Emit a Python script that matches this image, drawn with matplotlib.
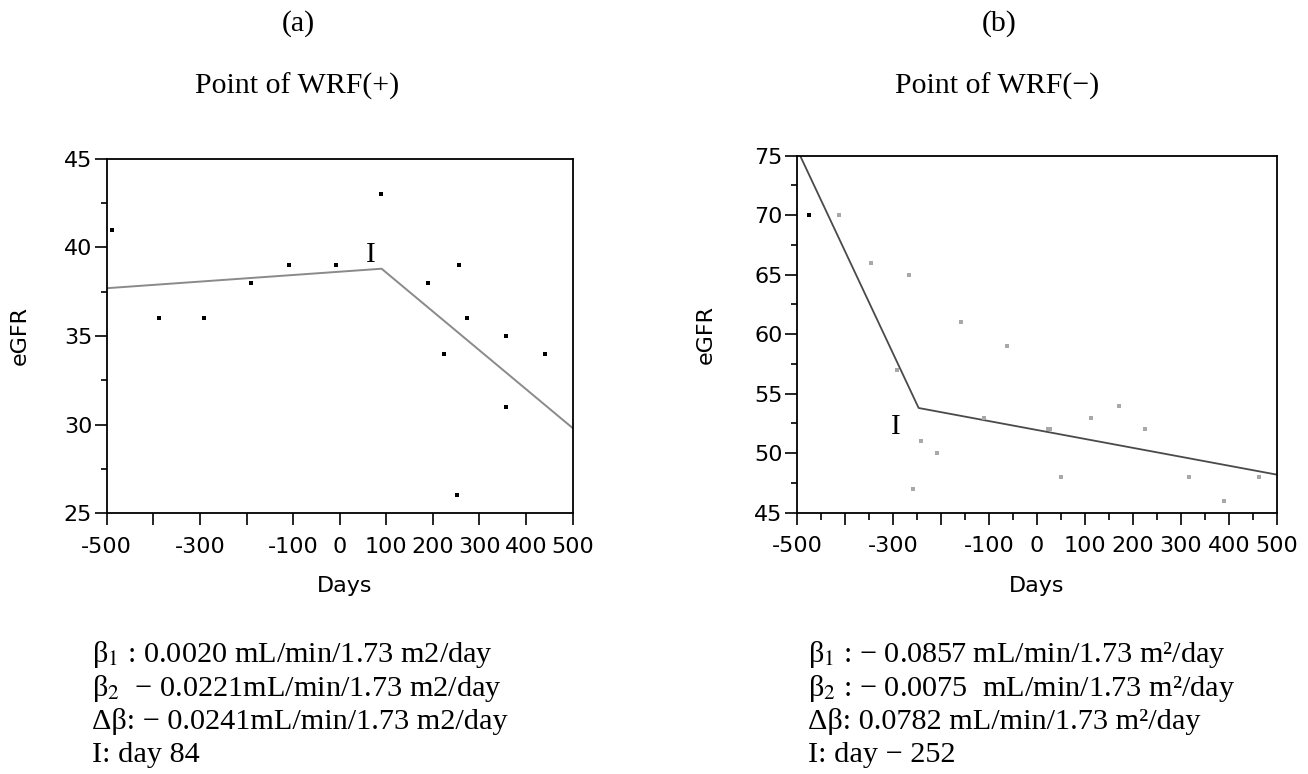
import matplotlib
matplotlib.use("Agg")
import matplotlib.pyplot as plt
from matplotlib.ticker import MultipleLocator, FixedLocator

plt.rcParams['mathtext.fontset'] = 'stix'

# (a) WRF(+)
days_a = [-488, -388, -292, -191, -108, -7, 89, 190, 223, 256, 252, 273, 357, 357, 441]
egfr_a = [41, 36, 36, 38, 39, 39, 43, 38, 34, 39, 26, 36, 35, 31, 34]
fit_days_a = [-500, 90, 500]
fit_egfr_a = [37.7, 38.8, 29.8]
break_a = (66, 39.6)

# (b) WRF(-)
days_b = [-413, -347, -268, -293, -159, -62, -242, -209, -258, -110, 22, 28,
          50, 113, 171, 226, 317, 389, 464]
egfr_b = [70, 66, 65, 57, 61, 59, 51, 50, 47, 53, 52, 52, 48, 53, 54, 52, 48, 46, 48]
first_b = (-475, 70)
fit_days_b = [-500, -247, 500]
fit_egfr_b = [75.5, 53.8, 48.2]
break_b = (-295, 52.2)

xticks = [-500, -400, -300, -200, -100, 0, 100, 200, 300, 400, 500]
xlabels = ['-500', '', '-300', '', '-100', '0', '100', '200', '300', '400', '500']

notes_a = [r'β$_1$ : 0.0020 mL/min/1.73 m2/day',
           r'β$_2$  − 0.0221mL/min/1.73 m2/day',
           'Δβ: − 0.0241mL/min/1.73 m2/day',
           'I: day 84']
notes_b = [r'β$_1$ : − 0.0857 mL/min/1.73 m²/day',
           r'β$_2$ : − 0.0075  mL/min/1.73 m²/day',
           'Δβ: 0.0782 mL/min/1.73 m²/day',
           'I: day − 252']

serif = 'Liberation Serif'
fig = plt.figure(figsize=(13.08, 7.74), dpi=100)
ax1 = fig.add_axes([0.0816, 0.3372, 0.3562, 0.4574])
ax2 = fig.add_axes([0.6096, 0.3376, 0.3665, 0.4612])


def style(ax, ylo, yhi, minor_x):
    ax.set_xlim(-500, 500)
    ax.set_ylim(ylo, yhi)
    ax.xaxis.set_major_locator(FixedLocator(xticks))
    ax.set_xticklabels(xlabels)
    if minor_x:
        ax.xaxis.set_minor_locator(MultipleLocator(50))
    ax.yaxis.set_major_locator(MultipleLocator(5))
    ax.yaxis.set_minor_locator(MultipleLocator(2.5))
    ax.tick_params(which='major', direction='out', length=8.5, width=1.2,
                   labelsize=16)
    ax.tick_params(axis='x', which='major', pad=8.5)
    ax.tick_params(axis='y', which='major', pad=2)
    ax.tick_params(which='minor', direction='out', length=4, width=1.2)
    if minor_x:
        ax.tick_params(axis='x', which='minor', length=5)
    for s in ax.spines.values():
        s.set_linewidth(1.3)
    ax.set_xlabel('Days', fontsize=16)
    ax.set_ylabel('eGFR', fontsize=16)


ax1.plot(fit_days_a, fit_egfr_a, color='#8a8a8a', lw=1.4)
ax1.plot(days_a, egfr_a, 's', color='black', ms=3, mew=0)
ax1.text(break_a[0], break_a[1], 'I', family=serif, fontsize=21,
         ha='center', va='center')
style(ax1, 25, 45, False)
ax1.xaxis.set_label_coords(0.51, -0.178)
ax1.yaxis.set_label_coords(-0.165, 0.5)

ax2.plot(fit_days_b, fit_egfr_b, color='#4a4a4a', lw=1.3)
ax2.plot(days_b, egfr_b, 's', color='#a8a8a8', ms=3, mew=0)
ax2.plot([first_b[0]], [first_b[1]], 's', color='black', ms=3, mew=0)
ax2.text(break_b[0], break_b[1], 'I', family=serif, fontsize=21,
         ha='center', va='center')
style(ax2, 45, 75, True)
ax2.xaxis.set_label_coords(0.5, -0.178)
ax2.yaxis.set_label_coords(-0.171, 0.5)

fig.text(298 / 1308, 1 - 24 / 774, '(a)', family=serif, fontsize=21.5,
         ha='center', va='center')
fig.text(297 / 1308, 1 - 86 / 774, 'Point of WRF(+)', family=serif,
         fontsize=21.5, ha='center', va='center')
fig.text(999 / 1308, 1 - 24 / 774, '(b)', family=serif, fontsize=21.5,
         ha='center', va='center')
fig.text(997 / 1308, 1 - 86 / 774, 'Point of WRF(−)', family=serif,
         fontsize=21.5, ha='center', va='center')

for i, (ta, tb) in enumerate(zip(notes_a, notes_b)):
    yb = 1 - (662 + 33.5 * i) / 774
    fig.text(92 / 1308, yb, ta, family=serif, fontsize=21.8, ha='left',
             va='baseline')
    fig.text(808 / 1308, yb, tb, family=serif, fontsize=21.8, ha='left',
             va='baseline')

fig.savefig('out.png', dpi=100)
